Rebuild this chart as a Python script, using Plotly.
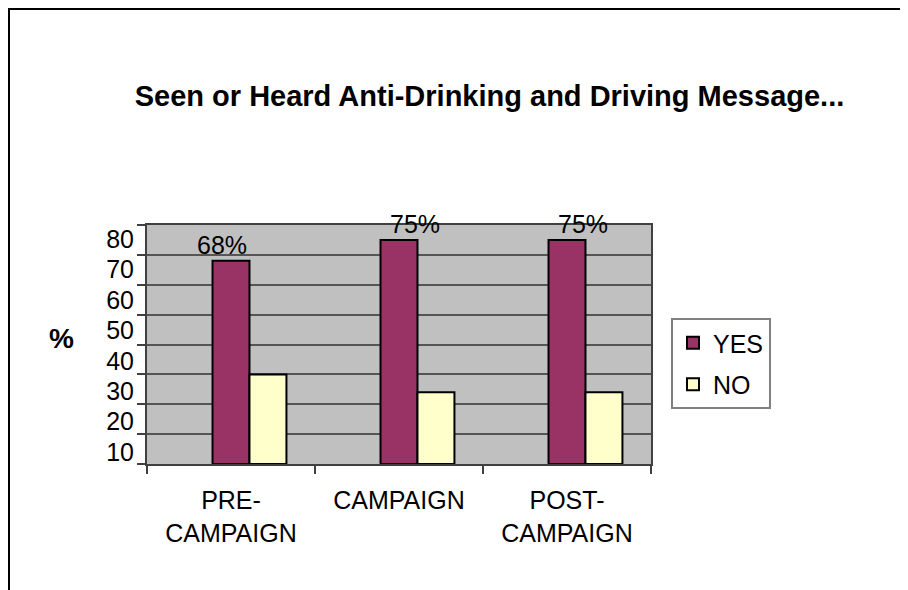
import plotly.graph_objects as go

# ---- data ----
categories = ["PRE-<br>CAMPAIGN", "CAMPAIGN", "POST-<br>CAMPAIGN"]
yes_values = [68, 75, 75]
no_values = [30, 24, 24]
series_names = ["YES", "NO"]
y_tick_values = [10, 20, 30, 40, 50, 60, 70, 80]
title_text = "Seen or Heard Anti-Drinking and Driving Message..."
y_title = "%"

# ---- style ----
FONT = "Liberation Sans, Arial, sans-serif"
YES_COLOR = "#993366"
NO_COLOR = "#FFFFCC"
GRID = "#555555"
AXIS = "#404040"
label_xshift = [-9, 16, 16]

OFF = 8  # page body margin
W, H = 908 - OFF, 590 - OFF
# plot area in page pixels: x 147..651, y 225..464
PX0, PX1, PY0, PY1 = 147 - OFF, 651 - OFF, 225 - OFF, 464 - OFF
L, R, T, B = PX0, W - PX1, PY0, H - PY1
pw, ph = PX1 - PX0, PY1 - PY0


def px_x(x):
    return (x - OFF - PX0) / pw


def px_y(y):
    return (PY1 - (y - OFF)) / ph


fig = go.Figure()
fig.add_trace(go.Bar(
    x=categories, y=yes_values, name=series_names[0],
    marker=dict(color=YES_COLOR, line=dict(color="black", width=2)),
    width=0.22, offset=-0.11, legendgroup="a",
))
fig.add_trace(go.Bar(
    x=categories, y=no_values, name=series_names[1],
    marker=dict(color=NO_COLOR, line=dict(color="black", width=2)),
    width=0.22, offset=0.11, legendgroup="b",
))
# carrier trace so the label axis is drawn
fig.add_trace(go.Scatter(
    x=categories, y=[None] * len(categories), yaxis="y2", mode="markers",
    showlegend=False, hoverinfo="skip",
))

annotations = []
for c, v, dx in zip(categories, yes_values, label_xshift):
    annotations.append(dict(
        x=c, y=v, xref="x", yref="y", text=f"{v}%", showarrow=False,
        yanchor="bottom", xanchor="center", xshift=dx,
        font=dict(family=FONT, size=25, color="black"),
    ))
annotations.append(dict(
    x=px_x(61), y=px_y(338.7), xref="paper", yref="paper",
    text=y_title, showarrow=False, xanchor="center", yanchor="middle",
    font=dict(family=FONT, size=28, color="black", weight="bold"),
))

fig.update_layout(
    width=W, height=H,
    margin=dict(l=L, r=R, t=T, b=B, autoexpand=False),
    paper_bgcolor="white", plot_bgcolor="#C0C0C0",
    barmode="overlay",
    font=dict(family=FONT, color="black"),
    title=dict(text=f"<b>{title_text}</b>", x=(489.5 - OFF) / W, xanchor="center",
               y=1 - (95.5 - OFF) / H, yanchor="middle", yref="container",
               font=dict(family=FONT, size=29, color="black")),
    xaxis=dict(type="category", categoryorder="array", categoryarray=categories,
               tickson="boundaries", ticks="outside", ticklen=8, tickwidth=2,
               tickcolor=AXIS, showline=True, linecolor=AXIS, linewidth=2,
               mirror=True, showgrid=False, ticklabelstandoff=13,
               tickfont=dict(family=FONT, size=25, color="black")),
    yaxis=dict(range=[0, 80], dtick=10, tick0=0, showticklabels=False,
               ticks="outside", ticklen=8, tickwidth=2, tickcolor=AXIS,
               showline=True, linecolor=AXIS, linewidth=2, mirror=True,
               showgrid=True, gridcolor=GRID, gridwidth=2, zeroline=False),
    yaxis2=dict(overlaying="y", side="left", anchor="x", range=[6.08, 84.6],
                tickmode="array", tickvals=y_tick_values,
                ticktext=[str(v) for v in y_tick_values],
                showgrid=False, showline=False, zeroline=False, ticks="",
                ticklabelstandoff=12,
                tickfont=dict(family=FONT, size=25, color="black")),
    legend=dict(x=px_x(671), y=px_y(318), xanchor="left", yanchor="top",
                bgcolor="white", bordercolor="#808080", borderwidth=2,
                tracegroupgap=6,
                font=dict(family=FONT, size=25, color="black")),
    annotations=annotations,
    shapes=[dict(type="rect", xref="paper", yref="paper",
                 x0=px_x(9), x1=px_x(W + 40),
                 y0=px_y(H + 40), y1=px_y(OFF + 1),
                 line=dict(color="black", width=2), fillcolor="rgba(0,0,0,0)",
                 layer="above")],
)

fig.write_html("out.html")
